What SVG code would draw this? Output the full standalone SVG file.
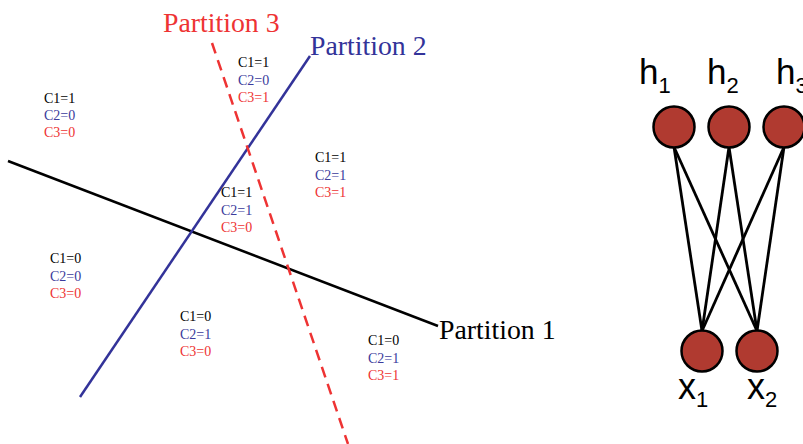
<svg xmlns="http://www.w3.org/2000/svg" width="803" height="444" viewBox="0 0 803 444">
<style>
.t{font-family:"Liberation Serif","Times New Roman",serif;font-size:14px}
.k{fill:#000}.b{fill:#3b3b9c}.r{fill:#ee3333}
.pl{font-family:"Liberation Serif","Times New Roman",serif;font-size:27.8px}
.nl{font-family:"Liberation Sans",Arial,sans-serif;fill:#000}
.node{fill:#b03a30;stroke:#000;stroke-width:2.5}
.edge{stroke:#000;stroke-width:2.8;fill:none}
</style>
<rect width="803" height="444" fill="#fff"/>
<g id="partitions">
<line x1="8" y1="161" x2="438" y2="326" stroke="#000" stroke-width="2.5"/>
<line x1="80" y1="397" x2="310" y2="56" stroke="#333399" stroke-width="2.5"/>
<line x1="212" y1="43" x2="348" y2="444" stroke="#ee3333" stroke-width="2.5" stroke-dasharray="11 7"/>
<text class="pl k" x="439" y="339">Partition 1</text>
<text class="pl" x="310" y="55" fill="#333399">Partition 2</text>
<text class="pl r" x="163" y="32">Partition 3</text>
</g>
<g id="regions" class="t">
<text x="44" y="103"><tspan class="k">C1=1</tspan><tspan class="b" x="44" dy="17">C2=0</tspan><tspan class="r" x="44" dy="17">C3=0</tspan></text>
<text x="50" y="263"><tspan class="k">C1=0</tspan><tspan class="b" x="50" dy="17.5">C2=0</tspan><tspan class="r" x="50" dy="17.5">C3=0</tspan></text>
<text x="238" y="67"><tspan class="k">C1=1</tspan><tspan class="b" x="238" dy="17.5">C2=0</tspan><tspan class="r" x="238" dy="17.5">C3=1</tspan></text>
<text x="315" y="162"><tspan class="k">C1=1</tspan><tspan class="b" x="315" dy="17.5">C2=1</tspan><tspan class="r" x="315" dy="17.5">C3=1</tspan></text>
<text x="221" y="197"><tspan class="k">C1=1</tspan><tspan class="b" x="221" dy="17.5">C2=1</tspan><tspan class="r" x="221" dy="17.5">C3=0</tspan></text>
<text x="180" y="321"><tspan class="k">C1=0</tspan><tspan class="b" x="180" dy="17.5">C2=1</tspan><tspan class="r" x="180" dy="17.5">C3=0</tspan></text>
<text x="368" y="345"><tspan class="k">C1=0</tspan><tspan class="b" x="368" dy="17.5">C2=1</tspan><tspan class="r" x="368" dy="17.5">C3=1</tspan></text>
</g>
<g id="connectors">
<line class="edge" x1="674" y1="147" x2="702" y2="331"/>
<line class="edge" x1="674" y1="147" x2="757" y2="331"/>
<line class="edge" x1="729" y1="147" x2="702" y2="331"/>
<line class="edge" x1="729" y1="147" x2="757" y2="331"/>
<line class="edge" x1="784" y1="147" x2="702" y2="331"/>
<line class="edge" x1="784" y1="147" x2="757" y2="331"/>
</g>
<g id="h1"><circle class="node" cx="674" cy="127" r="20.5"/><text class="nl" x="639" y="84" font-size="35">h<tspan font-size="22" dy="9">1</tspan></text></g>
<g id="h2"><circle class="node" cx="729" cy="127" r="20.5"/><text class="nl" x="707" y="84" font-size="35">h<tspan font-size="22" dy="9">2</tspan></text></g>
<g id="h3"><circle class="node" cx="784" cy="127" r="20.5"/><text class="nl" x="776" y="84" font-size="35">h<tspan font-size="22" dy="9">3</tspan></text></g>
<g id="x1"><circle class="node" cx="702" cy="351" r="20.5"/><text class="nl" x="678" y="399" font-size="36">x<tspan font-size="22" dy="8">1</tspan></text></g>
<g id="x2"><circle class="node" cx="757" cy="351" r="20.5"/><text class="nl" x="747" y="399" font-size="36">x<tspan font-size="22" dy="8">2</tspan></text></g>
</svg>
